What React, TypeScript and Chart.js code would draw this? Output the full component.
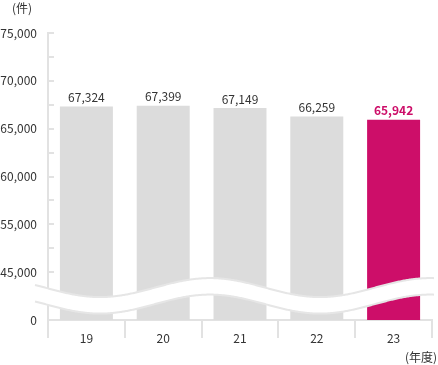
import { useEffect, useRef } from "react";
import { Chart, registerables } from "chart.js";
Chart.register(...registerables);

const categories = ["19", "20", "21", "22", "23"];
const values = [67324, 67399, 67149, 66259, 65942];
const valueLabels = ["67,324", "67,399", "67,149", "66,259", "65,942"];
const yTickValues = [75000, 70000, 65000, 60000, 55000, 50000, 45000];
const yTickLabels = ["75,000", "70,000", "65,000", "60,000", "55,000", "45,000", "0"];
const barColors = ["#dcdcdc", "#dcdcdc", "#dcdcdc", "#dcdcdc", "#cd0e69"];
const labelColors = ["#333333", "#333333", "#333333", "#333333", "#cd0e69"];
const yUnit = "(件)";
const xUnit = "(年度)";

const FONT = "'Noto Sans CJK JP', 'Noto Sans', sans-serif";
const GRID = "#e2e2e2";

const decor = {
  id: "decor",
  afterDatasetsDraw(chart: any) {
    const { ctx } = chart;
    const meta = chart.getDatasetMeta(0);
    ctx.save();
    ctx.textAlign = "center";
    ctx.textBaseline = "bottom";
    meta.data.forEach((bar: any, i: number) => {
      const last = i === values.length - 1;
      ctx.font = `${last ? "bold " : ""}12px ${FONT}`;
      ctx.fillStyle = labelColors[i];
      ctx.fillText(valueLabels[i], bar.x, bar.y - 3);
    });
    ctx.restore();
  },
  afterDraw(chart: any) {
    const { ctx, chartArea, scales } = chart;
    const { left, right, top, bottom } = chartArea;
    const x = scales.x;
    const y = scales.y;
    ctx.save();
    ctx.strokeStyle = GRID;
    ctx.lineWidth = 2;
    y.ticks.forEach((t: any) => {
      const py = Math.round(y.getPixelForValue(t.value));
      ctx.beginPath();
      ctx.moveTo(left, py);
      ctx.lineTo(left + 6, py);
      ctx.stroke();
    });
    for (let i = 0; i <= categories.length; i++) {
      const px = Math.round(x.getPixelForValue(i - 0.5));
      ctx.beginPath();
      ctx.moveTo(px, bottom);
      ctx.lineTo(px, bottom + 18);
      ctx.stroke();
    }
    const width = right - left;
    const x0 = left - 13;
    const x1 = right + 2;
    const period = width * 0.573;
    const phase = left + 52;
    const cy = y.getPixelForValue(47500) - 8.5;
    const amp = 9.5;
    const thick = 16.5;
    const yAt = (px: number) => cy + amp * Math.cos((2 * Math.PI * (px - phase)) / period);
    ctx.beginPath();
    for (let px = x0; px <= x1; px += 1) {
      const py = yAt(px);
      if (px === x0) ctx.moveTo(px, py);
      else ctx.lineTo(px, py);
    }
    for (let px = x1; px >= x0; px -= 1) ctx.lineTo(px, yAt(px) + thick);
    ctx.closePath();
    ctx.fillStyle = "#ffffff";
    ctx.fill();
    ctx.lineWidth = 2;
    ctx.strokeStyle = "#e6e6e6";
    ctx.beginPath();
    for (let px = x0; px <= x1; px += 1) {
      const py = yAt(px);
      if (px === x0) ctx.moveTo(px, py);
      else ctx.lineTo(px, py);
    }
    ctx.stroke();
    ctx.beginPath();
    for (let px = x0; px <= x1; px += 1) {
      const py = yAt(px) + thick;
      if (px === x0) ctx.moveTo(px, py);
      else ctx.lineTo(px, py);
    }
    ctx.stroke();
    ctx.fillStyle = "#333333";
    ctx.font = `12px ${FONT}`;
    ctx.textBaseline = "middle";
    ctx.textAlign = "center";
    ctx.fillText(yUnit, left - 26, top - 25);
    ctx.textAlign = "right";
    ctx.fillText(xUnit, chart.width - 1, bottom + 37);
    ctx.restore();
  },
};

export default function App() {
  const ref = useRef<HTMLCanvasElement>(null);
  useEffect(() => {
    document.body.style.margin = "0";
    const chart = new Chart(ref.current!, {
      type: "bar",
      data: {
        labels: categories,
        datasets: [
          {
            data: values,
            backgroundColor: barColors,
            barPercentage: 0.69,
            categoryPercentage: 1,
          },
        ],
      },
      options: {
        animation: false,
        responsive: true,
        maintainAspectRatio: false,
        layout: { padding: { top: 33, right: 6, left: 0, bottom: 0 } },
        plugins: { legend: { display: false }, tooltip: { enabled: false } },
        scales: {
          x: {
            grid: { display: false, drawTicks: false },
            border: { display: true, color: GRID, width: 2 },
            ticks: { color: "#333333", font: { family: FONT, size: 12 }, padding: 11 },
            afterFit: (s: any) => {
              s.height = 45;
            },
          },
          y: {
            min: 45000,
            max: 75000,
            grid: { display: false, drawTicks: false },
            border: { display: true, color: GRID, width: 2 },
            ticks: {
              stepSize: 2500,
              autoSkip: false,
              color: "#333333",
              font: { family: FONT, size: 12 },
              padding: 11,
              callback: (v: any) => {
                const idx = yTickValues.indexOf(Number(v));
                return idx >= 0 ? yTickLabels[idx] : "";
              },
            },
            afterFit: (s: any) => {
              s.width = 48;
            },
          },
        },
      },
      plugins: [decor],
    });
    return () => chart.destroy();
  }, []);
  return (
    <div style={{ width: 438, height: 365, position: "relative" }}>
      <canvas ref={ref} />
    </div>
  );
}
